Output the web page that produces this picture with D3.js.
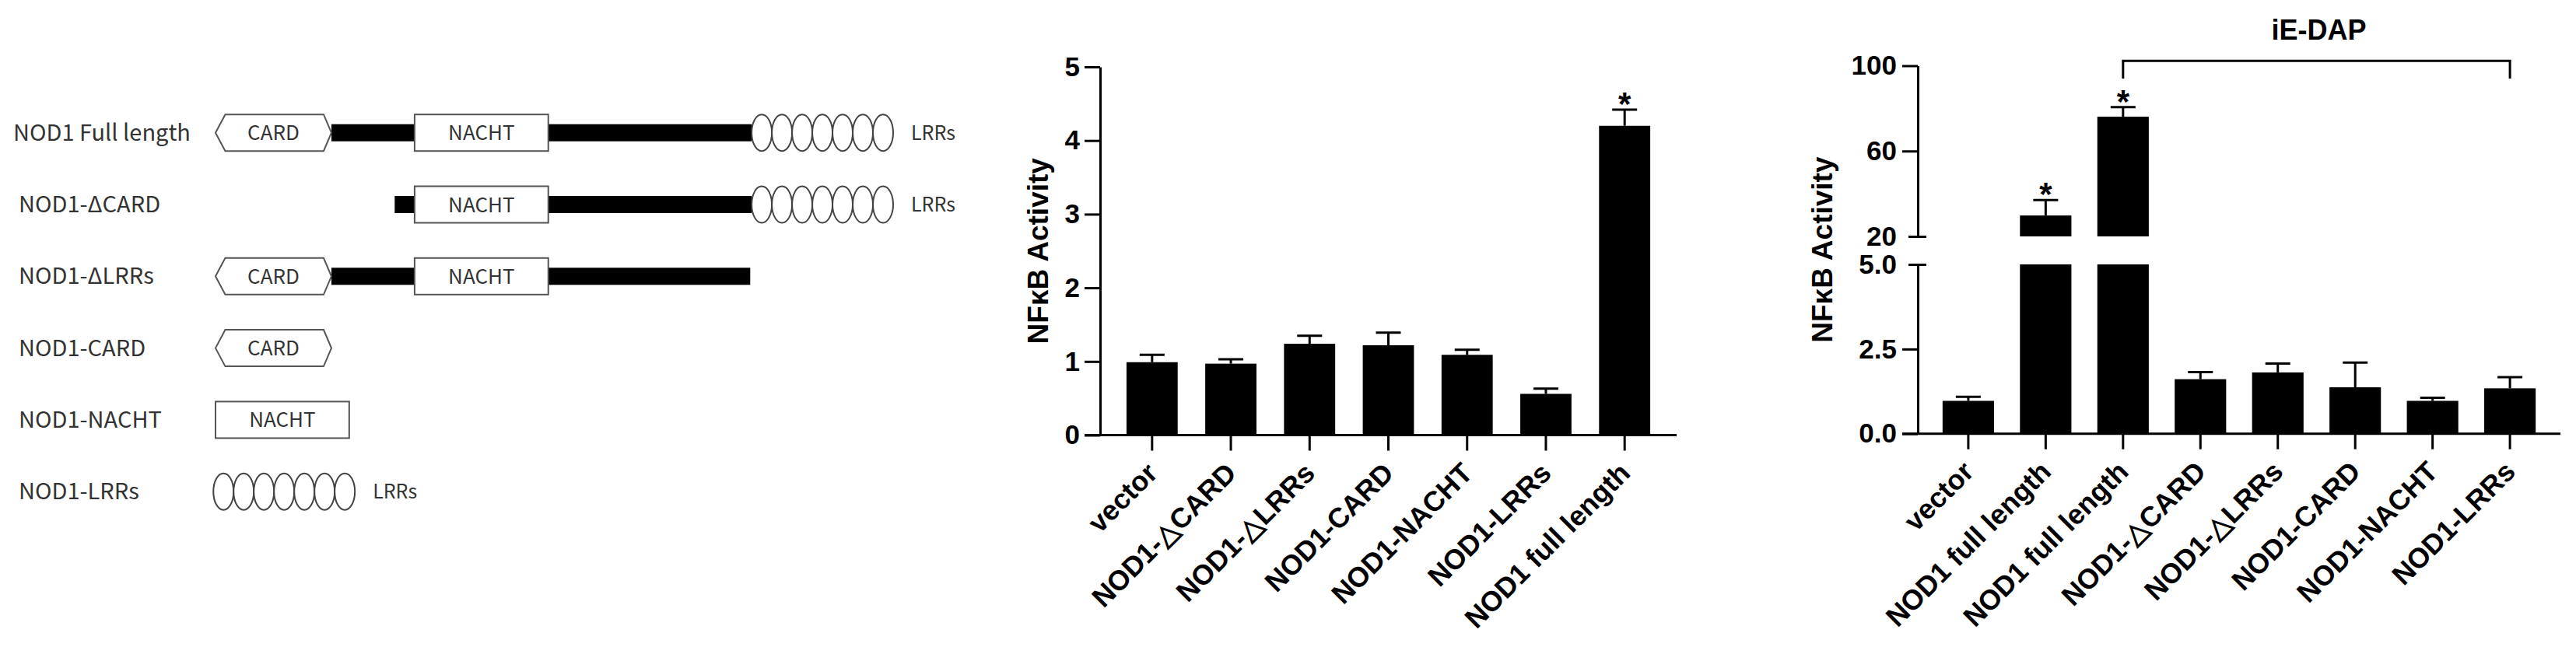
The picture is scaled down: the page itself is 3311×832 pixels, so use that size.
<!DOCTYPE html>
<html>
<head>
<meta charset="utf-8">
<script src="https://cdn.jsdelivr.net/npm/d3@7"></script>
<style>
  body { margin: 0; background: #fff; }
  .chart text { font-family: "Liberation Sans", Arial, sans-serif; font-weight: bold; fill: #000; }
  .diagram text { font-family: "Noto Sans CJK SC", "Noto Sans", sans-serif; font-weight: 400; fill: #333; }
</style>
</head>
<body>
<svg id="fig" width="3311" height="832"></svg>
<script>
// ---- construct diagram (residue positions of NOD1, 953 aa) ----
var rows = ["NOD1 Full length", "NOD1-ΔCARD", "NOD1-ΔLRRs", "NOD1-CARD", "NOD1-NACHT", "NOD1-LRRs"];
var rowDomains = [["CARD", "NACHT", "LRR"], ["NACHT", "LRR"], ["CARD", "NACHT"], ["CARD"], ["NACHT"], ["LRR"]];
var rowLinkers = [[163, 754], [252, 754], [163, 752], null, null, null];
var rowShift = [0, 0, 0, 0, 280, 757];
var domainStart = {CARD: 0, NACHT: 280, LRR: 754};
var domainEnd = {CARD: 163, NACHT: 468, LRR: 953};

// ---- NFkB activity, no stimulation ----
var catsA = ["vector", "NOD1-△CARD", "NOD1-△LRRs", "NOD1-CARD", "NOD1-NACHT", "NOD1-LRRs", "NOD1 full length"];
var meanA = [0.99, 0.97, 1.24, 1.22, 1.09, 0.56, 4.20];
var errA = [0.10, 0.06, 0.11, 0.17, 0.07, 0.07, 0.22];
var starA = [false, false, false, false, false, false, true];
var ticksA = [0, 1, 2, 3, 4, 5];

// ---- NFkB activity, iE-DAP ----
var catsB = ["vector", "NOD1 full length", "NOD1 full length", "NOD1-△CARD", "NOD1-△LRRs", "NOD1-CARD", "NOD1-NACHT", "NOD1-LRRs"];
var meanB = [0.97, 29.8, 76.1, 1.61, 1.81, 1.37, 0.97, 1.34];
var errB = [0.12, 7.2, 4.5, 0.21, 0.26, 0.73, 0.09, 0.33];
var starB = [false, true, true, false, false, false, false, false];
var ticksLow = [0, 2.5, 5];
var ticksHigh = [20, 60, 100];
var iedapFrom = 2, iedapTo = 7;

var svg = d3.select("#fig");
svg.append("rect").attr("width", 3311).attr("height", 832).attr("fill", "#fff");

//
// diagram
//
var diagram = svg.append("g").attr("class", "diagram");
var resX = d3.scaleLinear().domain([0, 953]).range([277, 1148]);
var rowY = d3.scalePoint().domain(rows).range([170.7, 632.2]);
var half = 23.5;

rows.forEach(function(name, i) {
  var g = diagram.append("g").attr("transform", "translate(0," + rowY(name) + ")");
  var shift = rowShift[i];

  g.append("text")
    .attr("x", i === 0 ? 17 : 24)
    .attr("y", 10)
    .style("font-size", "29px")
    .text(name);

  if (rowLinkers[i]) {
    g.append("rect")
      .attr("x", resX(rowLinkers[i][0] - shift))
      .attr("y", -11)
      .attr("width", resX(rowLinkers[i][1]) - resX(rowLinkers[i][0]))
      .attr("height", 22)
      .attr("fill", "#000");
  }

  rowDomains[i].forEach(function(d) {
    var x0 = resX(domainStart[d] - shift), x1 = resX(domainEnd[d] - shift);
    if (d === "CARD") {
      g.append("path")
        .attr("d", "M" + x0 + ",0L" + (x0 + 12.5) + "," + (-half) + "L" + (x1 - 10) + "," + (-half) +
          "L" + x1 + ",0L" + (x1 - 10) + "," + half + "L" + (x0 + 12.5) + "," + half + "Z")
        .attr("fill", "#fff").attr("stroke", "#555").attr("stroke-width", 2);
      g.append("text").attr("x", (x0 + x1) / 2).attr("y", 9.5)
        .attr("text-anchor", "middle").style("font-size", "26px").text("CARD");
    } else if (d === "NACHT") {
      g.append("rect")
        .attr("x", x0).attr("y", -half).attr("width", x1 - x0).attr("height", half * 2)
        .attr("fill", "#fff").attr("stroke", "#555").attr("stroke-width", 2);
      g.append("text").attr("x", (x0 + x1) / 2).attr("y", 9.5)
        .attr("text-anchor", "middle").style("font-size", "26px").text("NACHT");
    } else {
      var n = 7, w = (x1 - x0) / n;
      g.selectAll(".lrr").data(d3.range(n)).enter().append("ellipse")
        .attr("cx", function(k) { return x0 + w * (k + 0.5); })
        .attr("cy", 0)
        .attr("rx", w / 2)
        .attr("ry", half)
        .attr("fill", "#fff").attr("stroke", "#444").attr("stroke-width", 2);
      g.append("text").attr("x", x1 + 23).attr("y", 9)
        .style("font-size", "25px").text("LRRs");
    }
  });
});

//
// helpers for the bar charts
//
function styleAxis(sel) {
  sel.selectAll("path, line").attr("stroke", "#000").attr("stroke-width", 3);
  sel.selectAll("text").style("font-size", "35px");
}

function rotateLabels(sel) {
  sel.selectAll(".tick text")
    .style("font-size", "36px")
    .attr("x", null).attr("y", null).attr("dy", null)
    .attr("text-anchor", "end")
    .attr("transform", "translate(9,51) rotate(-45)");
}

function errorBar(g, cx, yBase, yTop) {
  g.append("line").attr("x1", cx).attr("x2", cx).attr("y1", yBase).attr("y2", yTop)
    .attr("stroke", "#000").attr("stroke-width", 3);
  g.append("line").attr("x1", cx - 16).attr("x2", cx + 16).attr("y1", yTop).attr("y2", yTop)
    .attr("stroke", "#000").attr("stroke-width", 3);
}

function star(g, cx, yTop) {
  g.append("text").attr("x", cx).attr("y", yTop + 7)
    .attr("text-anchor", "middle").style("font-size", "42px").text("*");
}

//
// chart A
//
var gA = svg.append("g").attr("class", "chart");
var axA = 1414;
var xA = d3.scaleBand().domain(d3.range(catsA.length)).range([axA, 2155])
  .paddingInner(0.35).paddingOuter(0.335);
var yA = d3.scaleLinear().domain([0, 5]).range([559.5, 86]);

gA.selectAll(".bar").data(meanA).enter().append("rect")
  .attr("x", function(d, i) { return xA(i); })
  .attr("y", function(d) { return yA(d); })
  .attr("width", xA.bandwidth())
  .attr("height", function(d) { return yA(0) - yA(d); })
  .attr("fill", "#000");

meanA.forEach(function(m, i) {
  var cx = xA(i) + xA.bandwidth() / 2;
  errorBar(gA, cx, yA(m), yA(m + errA[i]));
  if (starA[i]) star(gA, cx, yA(m + errA[i]));
});

gA.append("g").attr("transform", "translate(" + axA + ",0)")
  .call(d3.axisLeft(yA).tickValues(ticksA).tickFormat(d3.format("d"))
    .tickSize(20).tickSizeOuter(0).tickPadding(6))
  .call(styleAxis);

var xAxA = gA.append("g").attr("transform", "translate(0," + yA(0) + ")")
  .call(d3.axisBottom(xA).tickFormat(function(i) { return catsA[i]; }).tickSize(20).tickSizeOuter(0));
xAxA.select(".domain").remove();
xAxA.append("line").attr("x1", axA - 20).attr("x2", xA.range()[1]);
xAxA.call(styleAxis).call(rotateLabels);

gA.append("text")
  .attr("transform", "translate(1347," + (yA(0) + yA(5)) / 2 + ") rotate(-90)")
  .attr("text-anchor", "middle")
  .style("font-size", "37px")
  .text("NFκB Activity");

//
// chart B (broken axis)
//
var gB = svg.append("g").attr("class", "chart");
var axB = 2465;
var xB = d3.scaleBand().domain(d3.range(catsB.length)).range([axB, 3291])
  .paddingInner(0.335).paddingOuter(0.32);
var yLow = d3.scaleLinear().domain([0, 5]).range([557.7, 340]);
var yHigh = d3.scaleLinear().domain([20, 100]).range([304, 84.5]);

meanB.forEach(function(m, i) {
  var x = xB(i), bw = xB.bandwidth(), cx = x + bw / 2;
  var top, errTop;
  if (m > 5) {
    gB.append("rect").attr("x", x).attr("y", yLow(5)).attr("width", bw)
      .attr("height", yLow(0) - yLow(5)).attr("fill", "#000");
    gB.append("rect").attr("x", x).attr("y", yHigh(m)).attr("width", bw)
      .attr("height", yHigh(20) - yHigh(m)).attr("fill", "#000");
    top = yHigh(m); errTop = yHigh(m + errB[i]);
  } else {
    gB.append("rect").attr("x", x).attr("y", yLow(m)).attr("width", bw)
      .attr("height", yLow(0) - yLow(m)).attr("fill", "#000");
    top = yLow(m); errTop = yLow(m + errB[i]);
  }
  errorBar(gB, cx, top, errTop);
  if (starB[i]) star(gB, cx, errTop);
});

var lowAx = gB.append("g").attr("transform", "translate(" + axB + ",0)")
  .call(d3.axisLeft(yLow).tickValues(ticksLow).tickFormat(d3.format(".1f"))
    .tickSize(20).tickSizeOuter(0).tickPadding(7))
  .call(styleAxis);
lowAx.selectAll(".tick").filter(function(d) { return d === 5; })
  .select("line").attr("x1", 11).attr("x2", -12);

var highAx = gB.append("g").attr("transform", "translate(" + axB + ",0)")
  .call(d3.axisLeft(yHigh).tickValues(ticksHigh).tickFormat(d3.format("d"))
    .tickSize(20).tickSizeOuter(0).tickPadding(7))
  .call(styleAxis);
highAx.selectAll(".tick").filter(function(d) { return d === 20; })
  .select("line").attr("x1", 11).attr("x2", -12);

var xAxB = gB.append("g").attr("transform", "translate(0," + yLow(0) + ")")
  .call(d3.axisBottom(xB).tickFormat(function(i) { return catsB[i]; }).tickSize(20).tickSizeOuter(0));
xAxB.select(".domain").remove();
xAxB.append("line").attr("x1", axB - 20).attr("x2", xB.range()[1]);
xAxB.call(styleAxis).call(rotateLabels);

gB.append("text")
  .attr("transform", "translate(2355," + (yLow(0) + yHigh(100)) / 2 + ") rotate(-90)")
  .attr("text-anchor", "middle")
  .style("font-size", "37px")
  .text("NFκB Activity");

// iE-DAP bracket
var bx0 = xB(iedapFrom) + xB.bandwidth() / 2;
var bx1 = xB(iedapTo) + xB.bandwidth() / 2;
gB.append("path")
  .attr("d", "M" + bx0 + ",101V78.3H" + bx1 + "V101")
  .attr("fill", "none").attr("stroke", "#000").attr("stroke-width", 3);
gB.append("text")
  .attr("x", (bx0 + bx1) / 2 + 3).attr("y", 50.7)
  .attr("text-anchor", "middle")
  .style("font-size", "36px")
  .text("iE-DAP");
</script>
</body>
</html>
